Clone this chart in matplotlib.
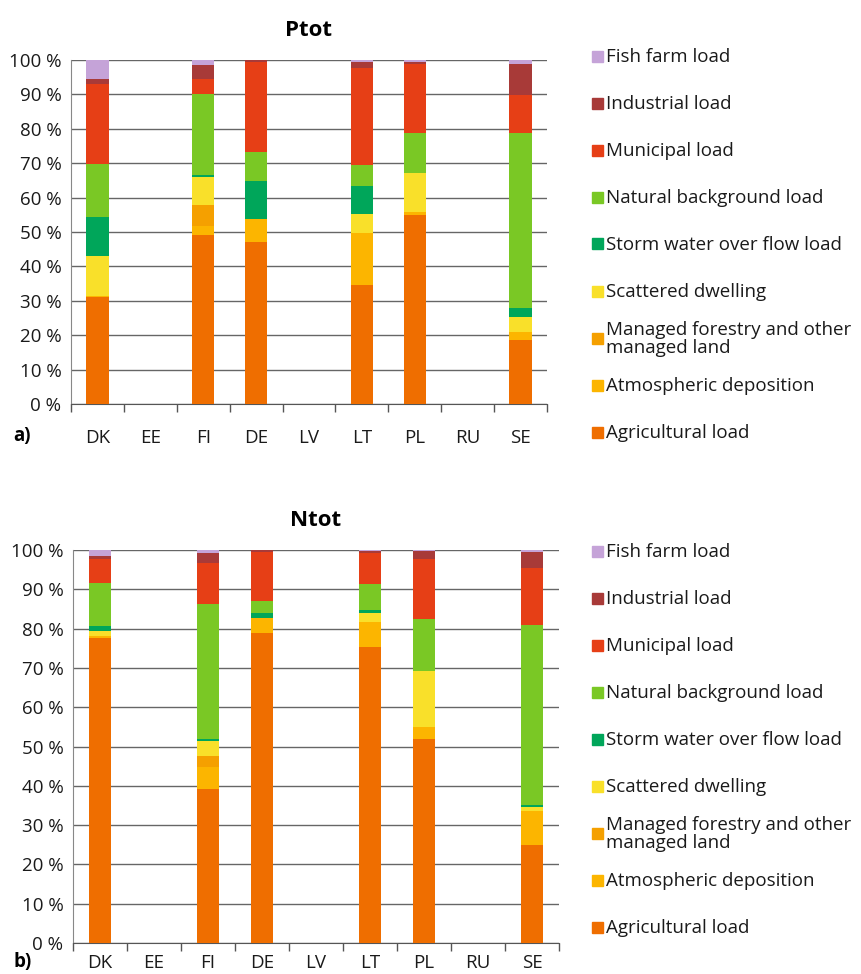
import numpy as np
import matplotlib
matplotlib.use('Agg')
import matplotlib.pyplot as plt
from matplotlib.patches import Rectangle

plt.rcParams['font.family'] = ['Open Sans', 'DejaVu Sans']

countries = ['DK', 'EE', 'FI', 'DE', 'LV', 'LT', 'PL', 'RU', 'SE']

# stacking order bottom -> top
labels = ['Agricultural load', 'Atmospheric deposition',
          'Managed forestry and other\nmanaged land', 'Scattered dwelling',
          'Storm water over flow load', 'Natural background load',
          'Municipal load', 'Industrial load', 'Fish farm load']
colors = ['#ef6e00', '#fcb500', '#f5a000', '#f9e02a', '#00a65a',
          '#7ac825', '#e63f16', '#a83a38', '#c5a3d8']

# Ptot shares (%)
agri_p = [31.1, 0, 49.0, 47.0, 0, 34.6, 54.8, 0, 18.7]
atmos_p = [0.4, 0, 2.6, 6.8, 0, 15.2, 1.0, 0, 2.3]
managed_p = [0, 0, 6.2, 0, 0, 0, 0, 0, 0]
scattered_p = [11.4, 0, 8.3, 0, 0, 5.3, 11.3, 0, 4.4]
storm_p = [11.5, 0, 0.5, 11.1, 0, 8.4, 0, 0, 2.4]
natural_p = [15.5, 0, 23.4, 8.3, 0, 6.0, 11.8, 0, 51.1]
municipal_p = [23.2, 0, 4.5, 26.2, 0, 28.3, 19.8, 0, 10.8]
industrial_p = [1.3, 0, 4.0, 0.6, 0, 1.7, 0.7, 0, 9.0]
fish_p = [5.6, 0, 1.5, 0, 0, 0.5, 0.6, 0, 1.3]

# Ntot shares (%)
agri_n = [77.5, 0, 39.1, 79.0, 0, 75.3, 51.8, 0, 25.0]
atmos_n = [0.6, 0, 5.8, 3.8, 0, 6.3, 3.2, 0, 8.5]
managed_n = [0, 0, 2.8, 0, 0, 0, 0, 0, 0]
scattered_n = [1.4, 0, 3.7, 0, 0, 2.4, 14.2, 0, 1.1]
storm_n = [1.2, 0, 0.5, 1.2, 0, 0.8, 0, 0, 0.4]
natural_n = [10.8, 0, 34.4, 3.1, 0, 6.6, 13.3, 0, 45.8]
municipal_n = [6.1, 0, 10.5, 12.4, 0, 7.8, 15.1, 0, 14.7]
industrial_n = [0.9, 0, 2.5, 0.5, 0, 0.5, 2.1, 0, 4.1]
fish_n = [1.5, 0, 0.7, 0, 0, 0.3, 0.3, 0, 0.4]

series_p = [agri_p, atmos_p, managed_p, scattered_p, storm_p,
            natural_p, municipal_p, industrial_p, fish_p]
series_n = [agri_n, atmos_n, managed_n, scattered_n, storm_n,
            natural_n, municipal_n, industrial_n, fish_n]

fig = plt.figure(figsize=(8.62, 9.74), dpi=100)
W, H = 862, 974
FS = 13.5


def panel(rect, series, title, tag, barw, xpad, leg_y0):
    ax = fig.add_axes(rect)
    x = np.arange(len(countries))
    bottom = np.zeros(len(countries))
    for vals, c in zip(series, colors):
        vals = np.array(vals, dtype=float)
        ax.bar(x, vals, barw, bottom=bottom, color=c, linewidth=0, zorder=3)
        bottom += vals
    ax.set_xlim(-0.5, len(countries) - 0.5)
    ax.set_ylim(0, 100)
    ax.set_yticks(np.arange(0, 101, 10))
    ax.set_yticklabels([f'{v} %' for v in range(0, 101, 10)], fontsize=FS,
                       color='#1a1a1a')
    ax.set_xticks(x)
    ax.set_xticklabels(countries, fontsize=FS, color='#1a1a1a')
    ax.set_xticks(np.arange(-0.5, len(countries), 1), minor=True)
    ax.tick_params(axis='x', which='major', length=0, pad=xpad)
    ax.tick_params(axis='x', which='minor', length=6, color='#555555', width=1)
    ax.tick_params(axis='y', length=0, pad=7)
    ax.grid(axis='y', color='#666666', linewidth=1, zorder=0)
    for s in ['top', 'right']:
        ax.spines[s].set_visible(False)
    ax.spines['left'].set_color('#888888')
    ax.spines['bottom'].set_color('#555555')
    ax.set_title(title, fontsize=16, fontweight='bold', pad=17)
    # panel tag
    ax.text(0, 0, tag, transform=ax.transAxes, fontsize=FS,
            fontweight='bold', va='center', ha='left')
    # legend drawn top -> bottom
    for i, (lab, c) in enumerate(zip(labels[::-1], colors[::-1])):
        yc = leg_y0 + i * 47
        fig.patches.append(Rectangle((592 / W, 1 - (yc + 5.5) / H), 11 / W, 11 / H,
                                     transform=fig.transFigure, color=c))
        fig.text(606 / W, 1 - (yc + 1) / H, lab, fontsize=FS, va='center', ha='left',
                 color='#1a1a1a', linespacing=1.0)
    return ax


ax1 = panel([71 / W, 1 - 404 / H, 476 / W, 344 / H], series_p, 'Ptot', 'a)', 0.42, 18, 56)
ax1.texts[0].set_position((-58 / 476, -32 / 344))
ax2 = panel([73 / W, 1 - 943 / H, 486 / W, 393 / H], series_n, 'Ntot', 'b)', 0.41, 8, 551)
ax2.texts[0].set_position((-60 / 486, -19 / 393))

fig.savefig('out.png', dpi=100)
